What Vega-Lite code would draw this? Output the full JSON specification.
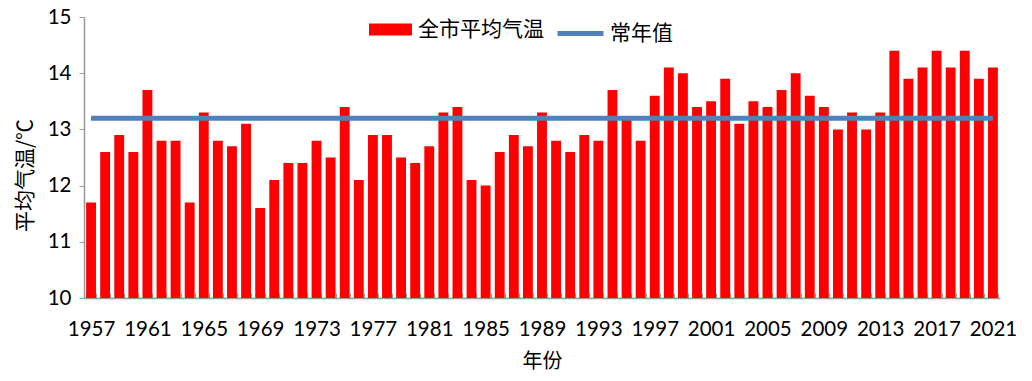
{
  "$schema": "https://vega.github.io/schema/vega-lite/v6.json",
  "width": 916,
  "height": 281,
  "autosize": "none",
  "padding": {"left": 84, "top": 17, "right": 32, "bottom": 83},
  "background": "white",
  "config": {"view": {"stroke": null}, "font": "Lato"},
  "data": {"values": [
    {"year": 1957, "temp": 11.7, "normal": 13.2},
    {"year": 1958, "temp": 12.6, "normal": 13.2},
    {"year": 1959, "temp": 12.9, "normal": 13.2},
    {"year": 1960, "temp": 12.6, "normal": 13.2},
    {"year": 1961, "temp": 13.7, "normal": 13.2},
    {"year": 1962, "temp": 12.8, "normal": 13.2},
    {"year": 1963, "temp": 12.8, "normal": 13.2},
    {"year": 1964, "temp": 11.7, "normal": 13.2},
    {"year": 1965, "temp": 13.3, "normal": 13.2},
    {"year": 1966, "temp": 12.8, "normal": 13.2},
    {"year": 1967, "temp": 12.7, "normal": 13.2},
    {"year": 1968, "temp": 13.1, "normal": 13.2},
    {"year": 1969, "temp": 11.6, "normal": 13.2},
    {"year": 1970, "temp": 12.1, "normal": 13.2},
    {"year": 1971, "temp": 12.4, "normal": 13.2},
    {"year": 1972, "temp": 12.4, "normal": 13.2},
    {"year": 1973, "temp": 12.8, "normal": 13.2},
    {"year": 1974, "temp": 12.5, "normal": 13.2},
    {"year": 1975, "temp": 13.4, "normal": 13.2},
    {"year": 1976, "temp": 12.1, "normal": 13.2},
    {"year": 1977, "temp": 12.9, "normal": 13.2},
    {"year": 1978, "temp": 12.9, "normal": 13.2},
    {"year": 1979, "temp": 12.5, "normal": 13.2},
    {"year": 1980, "temp": 12.4, "normal": 13.2},
    {"year": 1981, "temp": 12.7, "normal": 13.2},
    {"year": 1982, "temp": 13.3, "normal": 13.2},
    {"year": 1983, "temp": 13.4, "normal": 13.2},
    {"year": 1984, "temp": 12.1, "normal": 13.2},
    {"year": 1985, "temp": 12.0, "normal": 13.2},
    {"year": 1986, "temp": 12.6, "normal": 13.2},
    {"year": 1987, "temp": 12.9, "normal": 13.2},
    {"year": 1988, "temp": 12.7, "normal": 13.2},
    {"year": 1989, "temp": 13.3, "normal": 13.2},
    {"year": 1990, "temp": 12.8, "normal": 13.2},
    {"year": 1991, "temp": 12.6, "normal": 13.2},
    {"year": 1992, "temp": 12.9, "normal": 13.2},
    {"year": 1993, "temp": 12.8, "normal": 13.2},
    {"year": 1994, "temp": 13.7, "normal": 13.2},
    {"year": 1995, "temp": 13.2, "normal": 13.2},
    {"year": 1996, "temp": 12.8, "normal": 13.2},
    {"year": 1997, "temp": 13.6, "normal": 13.2},
    {"year": 1998, "temp": 14.1, "normal": 13.2},
    {"year": 1999, "temp": 14.0, "normal": 13.2},
    {"year": 2000, "temp": 13.4, "normal": 13.2},
    {"year": 2001, "temp": 13.5, "normal": 13.2},
    {"year": 2002, "temp": 13.9, "normal": 13.2},
    {"year": 2003, "temp": 13.1, "normal": 13.2},
    {"year": 2004, "temp": 13.5, "normal": 13.2},
    {"year": 2005, "temp": 13.4, "normal": 13.2},
    {"year": 2006, "temp": 13.7, "normal": 13.2},
    {"year": 2007, "temp": 14.0, "normal": 13.2},
    {"year": 2008, "temp": 13.6, "normal": 13.2},
    {"year": 2009, "temp": 13.4, "normal": 13.2},
    {"year": 2010, "temp": 13.0, "normal": 13.2},
    {"year": 2011, "temp": 13.3, "normal": 13.2},
    {"year": 2012, "temp": 13.0, "normal": 13.2},
    {"year": 2013, "temp": 13.3, "normal": 13.2},
    {"year": 2014, "temp": 14.4, "normal": 13.2},
    {"year": 2015, "temp": 13.9, "normal": 13.2},
    {"year": 2016, "temp": 14.1, "normal": 13.2},
    {"year": 2017, "temp": 14.4, "normal": 13.2},
    {"year": 2018, "temp": 14.1, "normal": 13.2},
    {"year": 2019, "temp": 14.4, "normal": 13.2},
    {"year": 2020, "temp": 13.9, "normal": 13.2},
    {"year": 2021, "temp": 14.1, "normal": 13.2}
  ]},
  "encoding": {
    "x": {
      "field": "year", "type": "ordinal",
      "scale": {"paddingInner": 0.3, "paddingOuter": 0.15},
      "axis": {
        "title": "年份", "titleFont": "Noto Sans CJK SC", "titleFontSize": 20, "titleFontWeight": "normal", "titleColor": "black", "titlePadding": 12,
        "labelAngle": 0, "labelFontSize": 20.5, "labelColor": "black", "labelPadding": 26, "labelFont": "Lato",
        "labelExpr": "(datum.value - 1957) % 4 == 0 ? datum.label : ''",
        "labelOverlap": false, "labelBound": false,
        "domainColor": "#9a9a9a", "domainWidth": 1.5,
        "tickColor": "#9a9a9a", "tickSize": -5, "tickBand": "extent", "tickWidth": 1.2
      }
    }
  },
  "layer": [
    {
      "mark": {"type": "bar", "color": "#ff0000"},
      "encoding": {
        "y": {
          "field": "temp", "type": "quantitative",
          "scale": {"domain": [10, 15], "zero": false, "nice": false},
          "axis": {
            "title": "平均气温/℃", "titleFont": "Noto Sans CJK SC", "titleFontSize": 21, "titleFontWeight": "normal", "titleColor": "black", "titlePadding": 12,
            "titleY": 158,
            "values": [10, 11, 12, 13, 14, 15], "format": "d", "grid": false,
            "labelFontSize": 20.5, "labelColor": "black", "labelPadding": 8,
            "domainColor": "#9a9a9a", "domainWidth": 1.5,
            "tickColor": "#9a9a9a", "tickSize": 5
          }
        },
        "y2": {"datum": 10},
        "fill": {
          "datum": "全市平均气温", "type": "nominal",
          "scale": {"domain": ["全市平均气温"], "range": ["#ff0000"]},
          "legend": {
            "orient": "none", "legendX": 285, "legendY": -9, "padding": 0, "title": null,
            "symbolType": "M-1,-0.28H1V0.28H-1Z", "symbolSize": 1849, "symbolStrokeWidth": 0, "symbolOpacity": 1,
            "labelFont": "Noto Sans CJK SC", "labelFontSize": 21, "labelColor": "black", "labelOffset": 6
          }
        }
      }
    },
    {
      "mark": {"type": "line", "strokeWidth": 5, "color": "#4f81bd"},
      "encoding": {
        "y": {"field": "normal", "type": "quantitative"},
        "stroke": {
          "datum": "常年值", "type": "nominal",
          "scale": {"domain": ["常年值"], "range": ["#4f81bd"]},
          "legend": {
            "orient": "none", "legendX": 471, "legendY": -9, "padding": 0, "title": null,
            "symbolType": "stroke", "symbolSize": 2116, "symbolStrokeWidth": 5,
            "labelFont": "Noto Sans CJK SC", "labelFontSize": 21, "labelColor": "black", "labelOffset": 4
          }
        }
      }
    }
  ]
}
